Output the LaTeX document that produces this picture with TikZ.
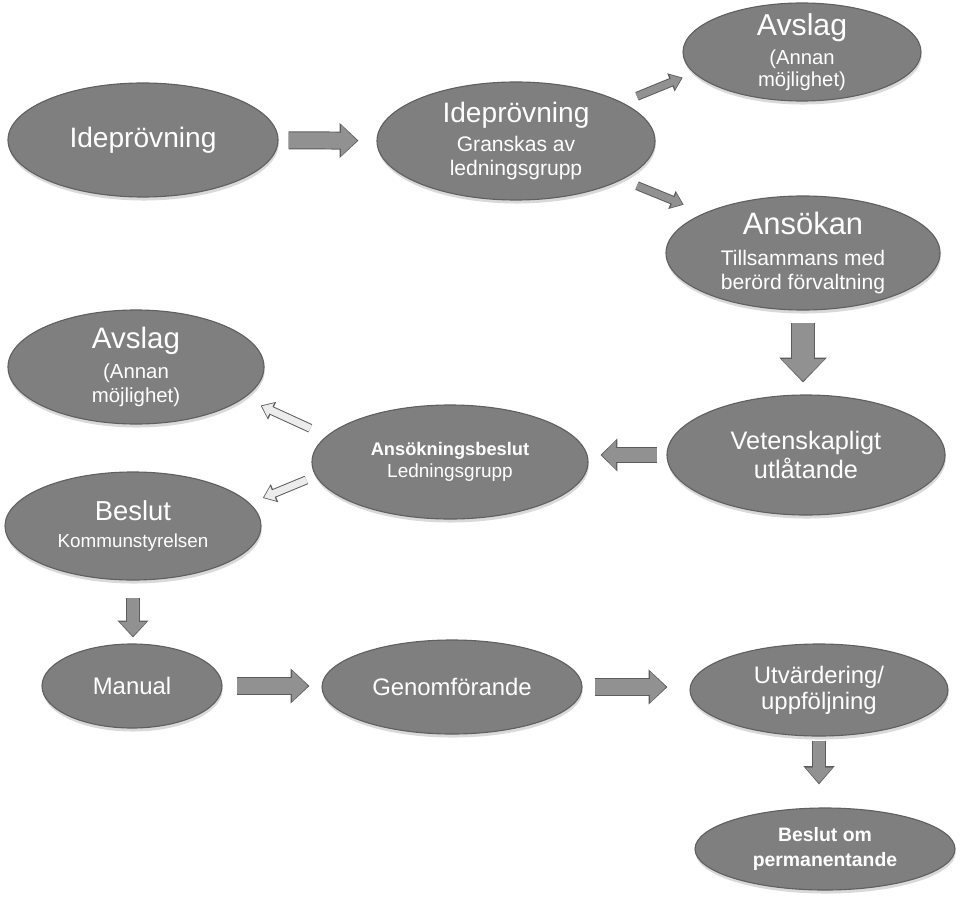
\documentclass[tikz,border=0pt]{standalone}
\usepackage{fontspec}
\setmainfont{Liberation Sans}
\usetikzlibrary{shapes.geometric,arrows.meta,shadows}

\definecolor{stagefill}{RGB}{127,127,127}
\definecolor{stageedge}{RGB}{96,96,96}
\definecolor{arrowfill}{RGB}{145,145,145}
\definecolor{arrowedge}{RGB}{92,92,92}
\definecolor{arrowpale}{RGB}{236,236,236}

\newcommand{\fsz}[2]{\fontsize{#1}{#2}\selectfont}
\newcommand{\flowfillcol}{arrowfill}

\tikzset{
  stage/.style={ellipse, fill=stagefill, draw=stageedge, line width=0.8pt, text=white,
    align=center, inner sep=-12pt,
    drop shadow={shadow xshift=0.5pt, shadow yshift=-2.5pt, opacity=0.3}},
  flow/.style n args={3}{draw=arrowedge, line width=#1+1.4pt,
    -{Triangle[width=#2+2.8pt, length=#3+2pt]},
    postaction={draw=\flowfillcol, line width=#1, -{Triangle[width=#2, length=#3, sep=1pt]}}},
  pale/.code={\renewcommand{\flowfillcol}{arrowpale}},
}

\begin{document}
\begin{tikzpicture}
        \useasboundingbox (0,0) rectangle (24,-22.525);
        \node[stage, minimum width=6.75cm, minimum height=2.85cm, font=\fsz{20}{24}] (idea) at (3.575,-3.5) {Ideprövning};
        \node[stage, minimum width=6.95cm, minimum height=2.95cm, font=\fsz{15}{16.4}] (review) at (12.9,-3.525)
            {{\fsz{20}{20}Ideprövning}\\[4.2pt]Granskas av\\ledningsgrupp};
        \node[stage, minimum width=5.95cm, minimum height=2.45cm, font=\fsz{14.4}{16}] (rejectA) at (20.05,-1.3)
            {{\fsz{21.5}{21.5}Avslag}\\[4.6pt](Annan\\möjlighet)};
        \node[stage, minimum width=6.85cm, minimum height=2.85cm, font=\fsz{15}{17}] (apply) at (20.075,-6.325)
            {{\fsz{22}{22}Ansökan}\\[5pt]Tillsammans med\\berörd förvaltning};
        \node[stage, minimum width=6.4cm, minimum height=2.85cm, font=\fsz{14.5}{17.5}] (rejectB) at (3.4,-9.175)
            {{\fsz{21}{21}Avslag}\\[3.5pt](Annan\\möjlighet)};
        \node[stage, minimum width=6.9cm, minimum height=2.85cm, font=\fsz{13.5}{15.6}] (decision) at (11.25,-11.55)
            {{\fsz{13}{15}\bfseries Ansökningsbeslut}\\Ledningsgrupp};
        \node[stage, minimum width=6.95cm, minimum height=3cm, font=\fsz{18}{20.6}] (opinion) at (20.15,-11.375)
            {Vetenskapligt\\utlåtande};
        \node[stage, minimum width=6.4cm, minimum height=2.7cm, font=\fsz{13.4}{19.2}] (council) at (3.325,-13.15)
            {{\fsz{19.5}{19.5}Beslut}\\Kommunstyrelsen};
        \node[stage, minimum width=4.5cm, minimum height=2.1cm, font=\fsz{17}{20}] (manual) at (3.3,-17.15) {Manual};
        \node[stage, minimum width=6.5cm, minimum height=2.35cm, font=\fsz{17}{20}] (rollout) at (11.3,-17.175) {Genomförande};
        \node[stage, minimum width=6.45cm, minimum height=2.3cm, font=\fsz{17}{18.5}] (evaluation) at (20.475,-17.25)
            {Utvärdering/\\uppföljning};
        \node[stage, minimum width=6.5cm, minimum height=2.05cm, font=\fsz{13.8}{17.8}\bfseries] (permanent) at (20.625,-21.225)
            {Beslut om\\permanentande};

        \draw[flow={11.4pt}{21.3pt}{11.4pt}, shorten <=0.25cm, shorten >=0.45cm] (idea) -- (review);
        \draw[flow={5pt}{10.5pt}{7pt}, shorten <=0.4cm, shorten >=0.3cm] (review.20) -- (rejectA.191);
        \draw[flow={5pt}{10.5pt}{7pt}, shorten <=0.4cm, shorten >=0.55cm] (review.-20) -- (apply.158);
        \draw[flow={15.6pt}{29.9pt}{15.6pt}, shorten <=0.3cm, shorten >=0.3cm] (apply.south) -- (apply.south |- opinion.north);
        \draw[flow={10pt}{20pt}{10pt}, shorten <=0.225cm, shorten >=0.3cm] (opinion.west) -- (opinion.west -| decision.east);
        \draw[flow={5pt}{10.5pt}{7pt}, pale, shorten <=0.45cm, shorten >=0.45cm] (decision.168) -- (rejectB.-16);
        \draw[flow={5pt}{10.5pt}{7pt}, pale, shorten <=0.25cm, shorten >=0.35cm] (decision.186) -- (council.11);
        \draw[flow={8.5pt}{18.5pt}{10pt}, shorten <=0.425cm, shorten >=0.15cm] (council.south) -- (council.south |- manual.north);
        \draw[flow={11.4pt}{21.3pt}{11.4pt}, shorten <=0.35cm, shorten >=0.3cm] (manual.east) -- (manual.east -| rollout.west);
        \draw[flow={11.4pt}{21.3pt}{11.4pt}, shorten <=0.3cm, shorten >=0.55cm] (rollout.east) -- (rollout.east -| evaluation.west);
        \draw[flow={8.5pt}{18.5pt}{11pt}, shorten <=0.1cm, shorten >=0.575cm] (evaluation.south) -- (evaluation.south |- permanent.north);
\end{tikzpicture}
\end{document}
